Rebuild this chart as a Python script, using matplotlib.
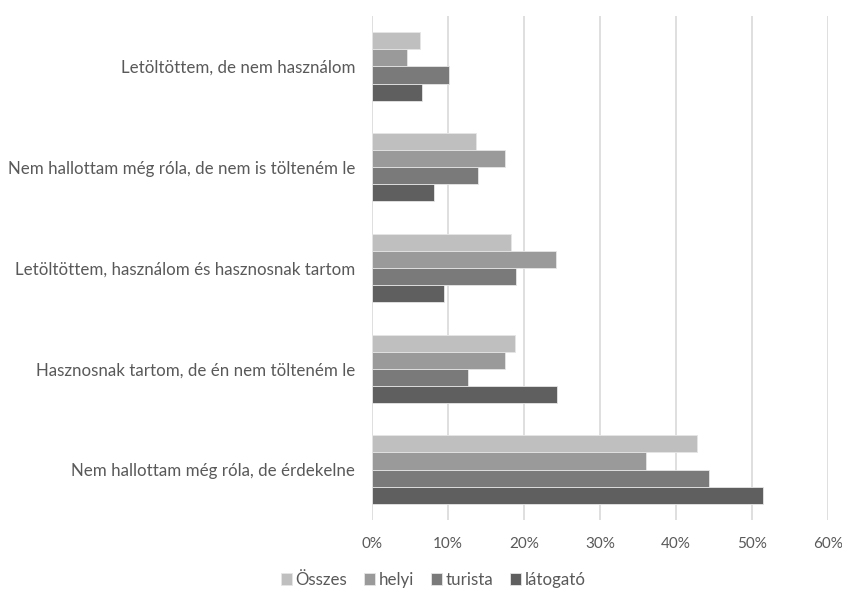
import numpy as np
from matplotlib import pyplot as plt
from matplotlib.ticker import PercentFormatter

# categories from top to bottom, as shown in the chart
categories = ['Letöltöttem, de nem használom',
              'Nem hallottam még róla, de nem is tölteném le',
              'Letöltöttem, használom és hasznosnak tartom',
              'Hasznosnak tartom, de én nem tölteném le',
              'Nem hallottam még róla, de érdekelne']
series = ['Összes', 'helyi', 'turista', 'látogató']

osszes = [6.3, 13.7, 18.3, 18.8, 42.8]
helyi = [4.6, 17.5, 24.2, 17.5, 36.1]
turista = [10.1, 13.9, 19.0, 12.6, 44.3]
latogato = [6.6, 8.1, 9.5, 24.3, 51.4]

xticks = [0, 10, 20, 30, 40, 50, 60]

colors = ['#BFBFBF', '#9A9A9A', '#7A7A7A', '#5F5F5F']
textcol = '#595959'

plt.rcParams['font.family'] = ['Lato', 'DejaVu Sans']

fig = plt.figure(figsize=(8.42, 5.90), dpi=100)
ax = fig.add_axes([372/842, 1-520/590, 456/842, 504/590])

values = [osszes, helyi, turista, latogato]
n = len(categories)
pos = np.arange(n)[::-1]  # top category at highest y
h = 0.17
handles = []
for k, vals in enumerate(values):
    offset = (1.5 - k) * h
    b = ax.barh(pos + offset, vals, height=h, color=colors[k],
                edgecolor='#E6E6E6', linewidth=0.6, zorder=3, label=series[k])
    handles.append(b)

ax.set_ylim(-0.5, n - 0.5)
ax.set_xlim(0, 60)
ax.set_xticks(xticks)
ax.xaxis.set_major_formatter(PercentFormatter(decimals=0))
ax.set_yticks(pos)
ax.set_yticklabels(categories)
ax.grid(axis='x', color='#D9D9D9', linewidth=1.2, zorder=0)
for s in ['top', 'right', 'bottom', 'left']:
    ax.spines[s].set_visible(False)
ax.tick_params(axis='y', length=0, labelsize=12.2, colors=textcol, pad=12)
ax.tick_params(axis='x', length=0, labelsize=11.0, colors=textcol, pad=12)

fig.legend(handles, series, loc='center', bbox_to_anchor=(433.5/842, 10/590),
           ncol=4, frameon=False, fontsize=12.2, labelcolor=textcol,
           handlelength=0.65, handleheight=0.65, handletextpad=0.2,
           columnspacing=1.0, borderaxespad=0)

fig.savefig('out.png', dpi=100, facecolor='white')
